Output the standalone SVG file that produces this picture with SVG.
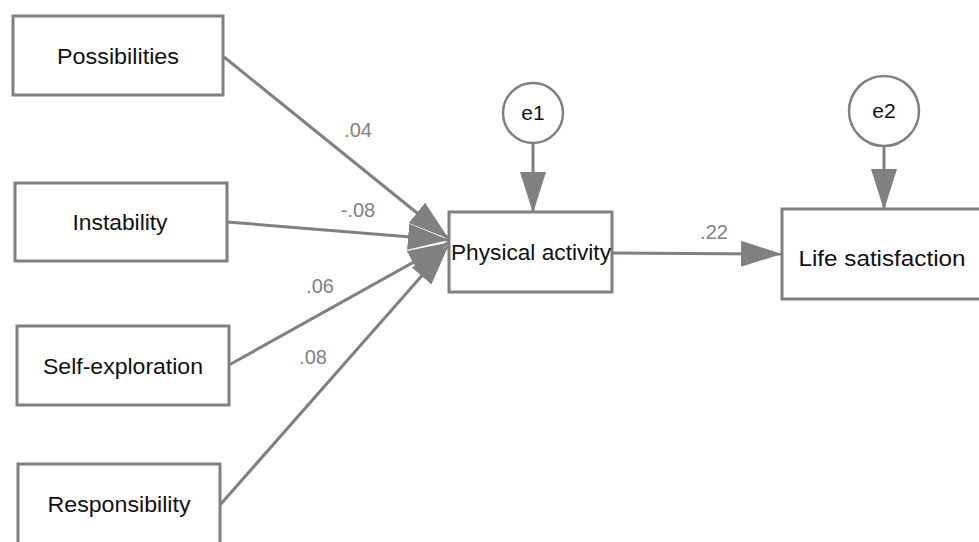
<svg xmlns="http://www.w3.org/2000/svg" width="979" height="542" viewBox="0 0 979 542">
<style>
.box{fill:#fff;stroke:#808080;stroke-width:3}
.lat{fill:#fff;stroke:#808080;stroke-width:2.5}
.t{font-family:"Liberation Sans",Arial,sans-serif;font-size:22px;fill:#111;text-anchor:middle}
.lbl{font-family:"Liberation Sans",Arial,sans-serif;font-size:20px;fill:#808080;text-anchor:middle}
.c{stroke:#808080;stroke-width:3;fill:none;marker-end:url(#ah)}
</style>
<defs>
<marker id="ah" markerUnits="userSpaceOnUse" markerWidth="42" markerHeight="28" refX="40" refY="14" orient="auto" viewBox="0 0 42 28">
<path d="M0,1 L41,14 L0,27 z" fill="#808080"/>
</marker>
</defs>
<rect width="979" height="542" fill="#fff"/>
<g id="connectors">
<line class="c" x1="224" y1="57" x2="448" y2="238"/>
<line class="c" x1="227" y1="222" x2="448" y2="240"/>
<line class="c" x1="229" y1="365" x2="448" y2="243"/>
<line class="c" x1="220" y1="505" x2="448" y2="246"/>
<line class="c" x1="533" y1="143" x2="533" y2="212"/>
<line class="c" x1="884" y1="146" x2="884" y2="209"/>
<line class="c" x1="612" y1="253" x2="781" y2="254"/>
<text class="lbl" x="358" y="137">.04</text>
<text class="lbl" x="358" y="217">-.08</text>
<text class="lbl" x="320" y="293">.06</text>
<text class="lbl" x="313" y="364">.08</text>
<text class="lbl" x="714" y="239">.22</text>
</g>
<g id="possibilities"><rect class="box" x="13" y="16" width="210" height="79"/><text class="t" x="118" y="64" textLength="122" lengthAdjust="spacingAndGlyphs">Possibilities</text></g>
<g id="instability"><rect class="box" x="15" y="183" width="212" height="78"/><text class="t" x="120" y="230" textLength="95" lengthAdjust="spacingAndGlyphs">Instability</text></g>
<g id="self-exploration"><rect class="box" x="17" y="326" width="212" height="79"/><text class="t" x="123" y="374" textLength="160" lengthAdjust="spacingAndGlyphs">Self-exploration</text></g>
<g id="responsibility"><rect class="box" x="18" y="464" width="202" height="90"/><text class="t" x="119" y="512" textLength="143" lengthAdjust="spacingAndGlyphs">Responsibility</text></g>
<g id="physical-activity"><rect class="box" x="449" y="212" width="163" height="80"/><text class="t" x="531" y="260" textLength="160" lengthAdjust="spacingAndGlyphs">Physical activity</text></g>
<g id="life-satisfaction"><rect class="box" x="782" y="209" width="210" height="90"/><text class="t" x="882" y="266" textLength="167" lengthAdjust="spacingAndGlyphs">Life satisfaction</text></g>
<g id="e1"><circle class="lat" cx="533" cy="113" r="30"/><text class="t" x="533" y="120" style="font-size:21px">e1</text></g>
<g id="e2"><circle class="lat" cx="884" cy="111" r="35"/><text class="t" x="884" y="118" style="font-size:21px">e2</text></g>
</svg>
